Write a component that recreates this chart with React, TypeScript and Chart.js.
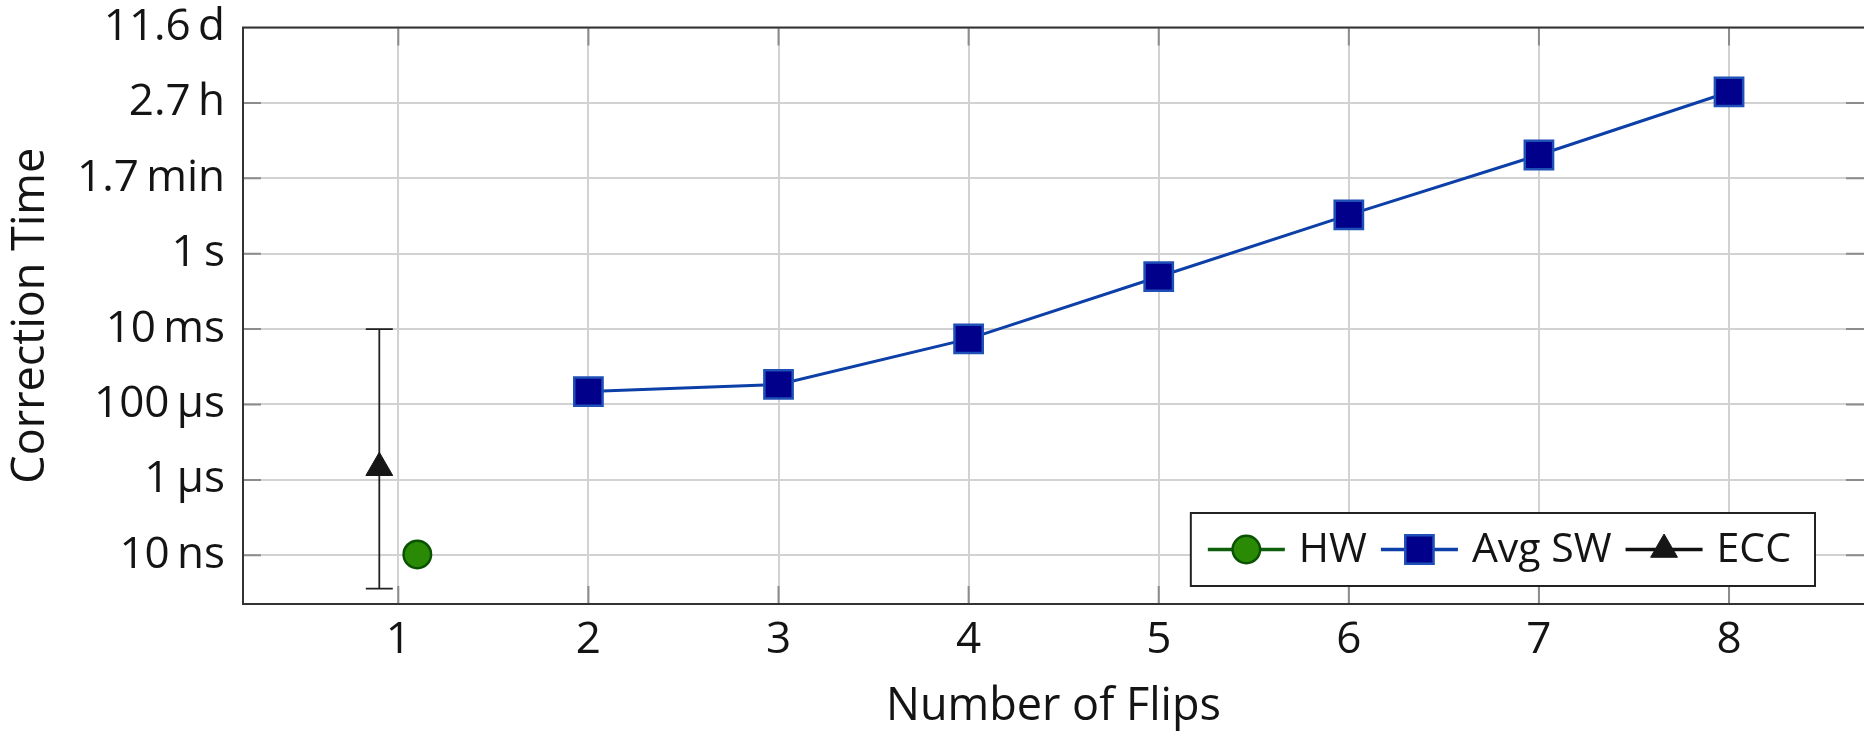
import React, { useEffect, useRef } from 'react';
import { Chart, registerables } from 'chart.js';

Chart.register(...registerables);

// ---------- data ----------
const flipTicks = [1, 2, 3, 4, 5, 6, 7, 8];
const yTickValues = [1e-8, 1e-6, 1e-4, 1e-2, 1, 1e2, 1e4, 1e6];
const yTickLabels = ['10\u2009ns', '1\u2009µs', '100\u2009µs', '10\u2009ms', '1\u2009s', '1.7\u2009min', '2.7\u2009h', '11.6\u2009d'];

const hwX = [1.1];
const hwY = [1.05e-8];

const swX = [2, 3, 4, 5, 6, 7, 8];
const swY = [2.2e-4, 3.4e-4, 5.5e-3, 0.245, 10.7, 415, 1.95e4];

const eccX = [0.9];
const eccY = [2.1e-6];
const eccLow = [1.3e-9];
const eccHigh = [1.0e-2];

const xMin = 0.183;
const xMax = 8.71;
const yMin = 5.1e-10;
const yMax = 1e6;

// ---------- styles ----------
const FONT = '"Open Sans"';
const TEXT = '#141414';
const GRID = '#d2d2d2';

type Kind = 'circle' | 'rect' | 'triangle';

function drawMarker(ctx: CanvasRenderingContext2D, kind: Kind, x: number, y: number, r: number, fill: string, stroke: string, bw: number) {
  ctx.beginPath();
  if (kind === 'circle') {
    ctx.arc(x, y, r, 0, Math.PI * 2);
  } else if (kind === 'rect') {
    const s = r * Math.SQRT1_2;
    ctx.rect(x - s, y - s, 2 * s, 2 * s);
  } else {
    for (let k = 0; k < 3; k++) {
      const a = (k * 2 * Math.PI) / 3;
      const px = x + Math.sin(a) * r;
      const py = y - Math.cos(a) * r;
      if (k === 0) ctx.moveTo(px, py);
      else ctx.lineTo(px, py);
    }
    ctx.closePath();
  }
  ctx.fillStyle = fill;
  ctx.fill();
  if (bw > 0) {
    ctx.lineWidth = bw;
    ctx.strokeStyle = stroke;
    ctx.stroke();
  }
}

const framePlugin = {
  id: 'frame',
  beforeDatasetsDraw(chart: any) {
    const { ctx, chartArea } = chart;
    const { left, top, right, bottom } = chartArea;
    const xs = chart.scales.x;
    const ys = chart.scales.y;
    const tl = 18;
    ctx.save();
    ctx.strokeStyle = '#8c8c8c';
    ctx.lineWidth = 2;
    ctx.beginPath();
    flipTicks.forEach((v) => {
      const px = xs.getPixelForValue(v);
      ctx.moveTo(px, bottom);
      ctx.lineTo(px, bottom - tl);
      ctx.moveTo(px, top);
      ctx.lineTo(px, top + tl);
    });
    yTickValues.forEach((v) => {
      const py = ys.getPixelForValue(v);
      if (Math.abs(py - top) < 1 || Math.abs(py - bottom) < 1) return;
      ctx.moveTo(left, py);
      ctx.lineTo(left + tl, py);
      ctx.moveTo(right, py);
      ctx.lineTo(right - tl, py);
    });
    ctx.stroke();
    ctx.strokeStyle = '#333333';
    ctx.lineWidth = 2;
    ctx.beginPath();
    ctx.moveTo(right + 2, top);
    ctx.lineTo(left, top);
    ctx.lineTo(left, bottom);
    ctx.lineTo(right + 2, bottom);
    ctx.stroke();
    ctx.restore();
  },
};

const legendPlugin = {
  id: 'innerLegend',
  afterDraw(chart: any) {
    const { ctx, chartArea } = chart;
    const items = [0, 1, 2].map((i) => chart.data.datasets[i]);
    const fontSize = 41;
    ctx.save();
    ctx.font = `${fontSize}px ${FONT}`;
    const lineLen = 77;
    const gapText = 14;
    const gapItem = 14;
    const padL = 17;
    const padR = 24;
    const widths = items.map((d: any) => ctx.measureText(d.label).width);
    const total = padL + padR + items.length * (lineLen + gapText) + widths.reduce((a: number, b: number) => a + b, 0) + (items.length - 1) * gapItem;
    const boxRight = chartArea.right - 49;
    const boxBottom = chartArea.bottom - 18;
    const boxH = 73;
    const boxLeft = boxRight - total;
    const boxTop = boxBottom - boxH;
    ctx.fillStyle = '#ffffff';
    ctx.fillRect(boxLeft, boxTop, total, boxH);
    ctx.strokeStyle = '#222222';
    ctx.lineWidth = 2;
    ctx.strokeRect(boxLeft, boxTop, total, boxH);
    const cy = boxTop + boxH / 2;
    let x = boxLeft + padL;
    items.forEach((d: any, i: number) => {
      ctx.strokeStyle = d.legendLineColor || d.borderColor;
      ctx.lineWidth = 3.5;
      ctx.beginPath();
      ctx.moveTo(x, cy);
      ctx.lineTo(x + lineLen, cy);
      ctx.stroke();
      drawMarker(ctx, d.pointStyle, x + lineLen / 2, cy, d.pointRadius, d.pointBackgroundColor, d.pointBorderColor, d.pointBorderWidth);
      x += lineLen + gapText;
      ctx.fillStyle = TEXT;
      ctx.textBaseline = 'middle';
      ctx.textAlign = 'left';
      ctx.fillText(d.label, x, cy + 1);
      x += widths[i] + gapItem;
    });
    ctx.restore();
  },
};

export default function App() {
  const canvasRef = useRef<HTMLCanvasElement | null>(null);

  useEffect(() => {
    if (!canvasRef.current) return;
    Chart.defaults.font.family = FONT;
    Chart.defaults.color = TEXT;

    const errData: any[] = [];
    eccX.forEach((x, i) => {
      errData.push({ x, y: eccLow[i] });
      errData.push({ x, y: eccHigh[i] });
      errData.push({ x, y: null });
    });

    const chart = new Chart(canvasRef.current, {
      type: 'line',
      data: {
        datasets: [
          {
            label: 'HW',
            data: hwX.map((x, i) => ({ x, y: hwY[i] })),
            borderColor: '#0d5e0d',
            legendLineColor: '#0d5e0d',
            borderWidth: 3,
            pointStyle: 'circle',
            pointRadius: 13.75,
            pointBackgroundColor: '#2a8a06',
            pointBorderColor: '#0b5200',
            pointBorderWidth: 2.5,
          } as any,
          {
            label: 'Avg SW',
            data: swX.map((x, i) => ({ x, y: swY[i] })),
            borderColor: '#0c3fa8',
            borderWidth: 3,
            pointStyle: 'rect',
            pointRadius: 20,
            pointBackgroundColor: '#00008b',
            pointBorderColor: '#1f50b8',
            pointBorderWidth: 2.5,
          } as any,
          {
            label: 'ECC',
            data: eccX.map((x, i) => ({ x, y: eccY[i] })),
            borderColor: '#111111',
            borderWidth: 3,
            pointStyle: 'triangle',
            pointRadius: 15.5,
            pointBackgroundColor: '#161616',
            pointBorderColor: '#161616',
            pointBorderWidth: 1,
          } as any,
          {
            label: 'ECC error',
            data: errData,
            borderColor: '#222222',
            borderWidth: 1.8,
            spanGaps: false,
            pointStyle: 'line',
            pointRadius: 13.5,
            pointBorderColor: '#222222',
            pointBorderWidth: 1.8,
          } as any,
        ],
      },
      options: {
        animation: false,
        responsive: false,
        devicePixelRatio: 1,
        events: [],
        layout: { autoPadding: false, padding: { top: 27.5, right: 0, bottom: 0, left: 0 } },
        plugins: {
          legend: { display: false },
          tooltip: { enabled: false },
        },
        scales: {
          x: {
            type: 'linear',
            min: xMin,
            max: xMax,
            afterBuildTicks: (s: any) => {
              s.ticks = flipTicks.map((v) => ({ value: v }));
            },
            afterFit: (s: any) => {
              s.height = 132;
              s.paddingLeft = 0;
              s.paddingRight = 0;
            },
            ticks: {
              autoSkip: false,
              maxRotation: 0,
              padding: 10,
              color: TEXT,
              font: { size: 44, family: FONT },
              callback: (v: any) => String(v),
            },
            grid: { color: GRID, lineWidth: 2, drawTicks: false },
            border: { display: false },
            title: {
              display: true,
              text: 'Number of Flips',
              color: TEXT,
              font: { size: 45, family: FONT },
              padding: { top: 0, bottom: 2 },
            },
          },
          y: {
            type: 'logarithmic',
            min: yMin,
            max: yMax,
            afterBuildTicks: (s: any) => {
              s.ticks = yTickValues.map((v) => ({ value: v }));
            },
            afterFit: (s: any) => {
              s.width = 243;
              s.paddingTop = 0;
              s.paddingBottom = 0;
            },
            ticks: {
              autoSkip: false,
              padding: 18,
              color: TEXT,
              font: { size: 44, family: FONT },
              callback: (v: any) => {
                const i = yTickValues.findIndex((t) => Math.abs(Math.log10(t) - Math.log10(v)) < 1e-6);
                return i >= 0 ? yTickLabels[i] : '';
              },
            },
            grid: { color: GRID, lineWidth: 2, drawTicks: false },
            border: { display: false },
            title: {
              display: true,
              text: 'Correction Time',
              color: TEXT,
              font: { size: 45, family: FONT },
              padding: { top: 4, bottom: 0 },
            },
          },
        },
      } as any,
      plugins: [framePlugin, legendPlugin],
    });

    return () => chart.destroy();
  }, []);

  return (
    <div style={{ position: 'fixed', left: 0, top: 0, width: 1864, height: 736, background: '#fff' }}>
      <canvas ref={canvasRef} width={1864} height={736} style={{ display: 'block' }} />
    </div>
  );
}
